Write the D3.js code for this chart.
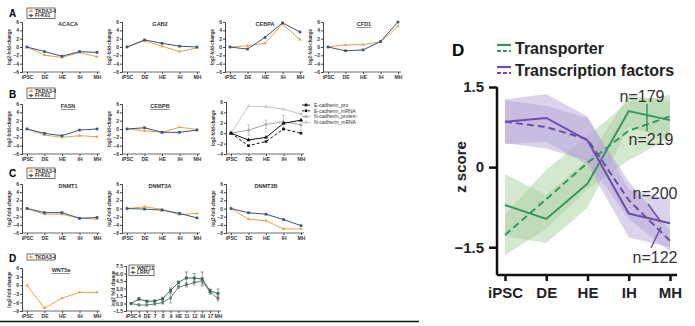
<!DOCTYPE html>
<html><head><meta charset="utf-8">
<script src="https://cdn.jsdelivr.net/npm/d3@7"></script>
<style>
body{margin:0;background:#fff;}
svg{display:block;font-family:"Liberation Sans",Arial,sans-serif;}
</style></head><body>
<svg id="fig" width="695" height="326"></svg>
<script>
// small helper so attrs({...}) works without d3-selection-multi
d3.selection.prototype.attrs = function(o){
	for (var k in o) this.attr(k, o[k]);
	return this;
};

var stages = ["iPSC","DE","HE","IH","MH"];
// row A
var acacaTKDA = [0,-1.95,-2.5,-1.3,-2.35], acacaFI = [0,-1.1,-2.2,-1.1,-1.3];
var gab2TKDA = [0,1.5,0.2,-1.1,-0.2], gab2FI = [0,1.7,0.9,0.2,0];
var cebpaTKDA = [0,0.3,0.9,5.5,1.8], cebpaFI = [0,-0.5,2.3,5.8,3.6];
var cfd1TKDA = [0,0.5,0.6,1.2,5.0], cfd1FI = [0,-0.9,-0.7,1.3,6.0];
// row B
var fasnTKDA = [0,-1.45,-2.0,-1.6,-1.85], fasnFI = [0,-1.05,-1.6,-0.25,0];
var cebpbTKDA = [0,-0.4,-0.8,0.45,-0.1], cebpbFI = [0,0.3,-0.8,-0.8,-0.25];
var ecadPro = [0,-1.3,-0.8,1.9,2.5], ecadMrna = [0,-2.4,-1.6,0.8,0];
var ncadPro = [0,0.6,1.7,2.2,1.6], ncadMrna = [0,5.2,5.1,4.6,3.7];
var ncadProErr = [0,1.0,0.8,1.2,1.0];
// row C
var dnmt1TKDA = [0,-1.4,-1.4,-2.4,-2.6], dnmt1FI = [0,-1.0,-1.0,-2.4,-2.2];
var dnmt3aTKDA = [0,0.4,-0.2,-1.5,-1.2], dnmt3aFI = [0,-0.15,-0.4,-1.2,-2.3];
var dnmt3bTKDA = [0,-2.6,-3.0,-5.0,-5.0], dnmt3bFI = [0,-1.05,-1.4,-2.7,-4.2];
// row D
var wnt5aTKDA = [0,-8,-4.5,-2.5,-2.5];
var wntStages = ["iPSC","4","DE","7","8","9","HE","11","12","IH","17","MH"];
var lrp2 = [0,0.9,0.45,0.5,0.95,2.6,4.2,5.1,5.1,4.9,2.5,2.0];
var lrp2Err = [0,0.3,0.2,0.2,0.3,0.5,0.3,1.2,0.9,1.4,0.4,0.9];
var wnt11 = [0,-0.3,-0.3,-0.1,0.2,1.1,3.3,3.7,4.2,4.5,2.3,1.0];
var wnt11Err = [0,0.2,0.2,0.2,0.3,1.0,0.3,0.4,0.5,0.6,0.5,0.5];
// right panel D (z score)
var transSolid = [-0.71,-0.97,-0.31,1.05,0.88], transSolidSd = [0.58,0.45,0.45,0.3,0.35];
var transDashed = [-1.27,-0.6,0.08,0.68,0.95], transDashedSd = [0.38,0.55,0.5,0.55,0.4];
var tfSolid = [0.85,0.92,0.5,-0.87,-1.05], tfSolidSd = [0.42,0.45,0.45,0.45,0.45];
var tfDashed = [0.85,0.75,0.52,-0.62,-1.38], tfDashedSd = [0.4,0.4,0.4,0.35,0.2];

var ORANGE = "#e6a24a", BLUE = "#36557f";
var svg = d3.select("#fig");

function smallPanel(o){
	var cats = o.cats || stages;
	var x = d3.scalePoint().domain(cats).range([o.ax+5, o.ax+(o.w||75)]);
	var y = d3.scaleLinear().domain(o.domain).range([o.bot, o.top]);
	var g = svg.append("g");
	g.append("g").attr("transform","translate("+o.ax+",0)")
		.call(d3.axisLeft(y).tickValues(o.ticks).tickSize(2).tickPadding(1).tickFormat(o.fmt||d3.format("d")));
	var xAx = g.append("g").attr("transform","translate(0,"+o.bot+")")
		.call(d3.axisBottom(x).tickSize(2).tickPadding(1));
	xAx.select(".domain").remove();
	g.append("line").attrs({x1:o.ax,x2:o.ax+(o.w||75)+3,y1:o.bot,y2:o.bot,stroke:"#444","stroke-width":0.8});
	g.selectAll(".tick text").style("font-size","5px").style("font-weight","bold").attr("fill","#333");
	g.selectAll(".tick line, .domain").attr("stroke","#444");
	g.append("text").attr("transform","translate("+(o.ax-11)+","+((o.top+o.bot)/2)+") rotate(-90)")
		.attr("text-anchor","middle").style("font-size","4.5px").style("font-weight","bold").attr("fill","#333")
		.text(o.ylab || "log2-fold-change");
	if(o.title){
		g.append("text").attr("x",o.ax+o.tx).attr("y",o.top+4).attr("text-anchor","middle")
			.style("font-size","5.5px").style("font-weight","bold").attr("fill","#333")
			.style("text-decoration",o.ul?"underline":"none").text(o.title);
	}
	var line = d3.line().x(function(d,i){return x(cats[i]);}).y(function(d){return y(d);});
	o.series.forEach(function(s){
		if(s.err){
			s.vals.forEach(function(v,i){
				if(!s.err[i]) return;
				g.append("line").attrs({x1:x(cats[i]),x2:x(cats[i]),y1:y(v-s.err[i]),y2:y(v+s.err[i]),stroke:s.color,"stroke-width":0.6});
				[v-s.err[i],v+s.err[i]].forEach(function(e){
					g.append("line").attrs({x1:x(cats[i])-1.5,x2:x(cats[i])+1.5,y1:y(e),y2:y(e),stroke:s.color,"stroke-width":0.6});
				});
			});
		}
		g.append("path").attr("d",line(s.vals)).attr("fill","none").attr("stroke",s.color)
			.attr("stroke-width",s.sw||1).attr("stroke-dasharray",s.dash||null);
		g.selectAll(null).data(s.vals).enter().append("path")
			.attr("transform",function(d,i){return "translate("+x(cats[i])+","+y(d)+")";})
			.attr("d",d3.symbol().type(s.shape||d3.symbolSquare).size(s.size||7))
			.attr("fill",s.color);
	});
	return g;
}

function legendBox(x0,y0,items,w){
	var g = svg.append("g");
	g.append("rect").attrs({x:x0,y:y0,width:w||28,height:items.length*4.5+1.5,fill:"#fff",stroke:"#333","stroke-width":0.7});
	items.forEach(function(it,i){
		var yy = y0+3+i*4.5;
		g.append("line").attrs({x1:x0+1.5,x2:x0+6.5,y1:yy,y2:yy,stroke:it.color,"stroke-width":0.8});
		g.append("path").attr("transform","translate("+(x0+4)+","+yy+")")
			.attr("d",d3.symbol().type(it.shape).size(6)).attr("fill",it.color);
		g.append("text").attrs({x:x0+8,y:yy+1.8}).style("font-size","5px").style("font-weight","bold")
			.attr("fill","#333").text(it.label);
	});
}

function letter(t,x,y,size){
	svg.append("text").attrs({x:x,y:y}).style("font-size",(size||10)+"px").style("font-weight","bold").text(t);
}

var tri = d3.symbolTriangle, sq = d3.symbolSquare;
function pair(tk,fi){ return [{vals:tk,color:ORANGE,shape:tri,size:5},{vals:fi,color:BLUE,shape:sq,size:7}]; }
var t6 = [-6,-4,-2,0,2,4,6];

// row A
smallPanel({ax:22,top:22,bot:72,domain:[-6,6],ticks:t6,title:"ACACA",tx:46,series:pair(acacaTKDA,acacaFI)});
smallPanel({ax:122,top:22,bot:72,domain:[-6,6],ticks:t6,title:"GAB2",tx:38,series:pair(gab2TKDA,gab2FI)});
smallPanel({ax:225,top:22,bot:72,domain:[-6,6],ticks:t6,title:"CEBPA",tx:40,series:pair(cebpaTKDA,cebpaFI)});
smallPanel({ax:323,top:22,bot:72,domain:[-6,6],ticks:t6,title:"CFD1",tx:41,ul:true,series:pair(cfd1TKDA,cfd1FI)});
// row B
smallPanel({ax:22,top:104,bot:154,domain:[-6,6],ticks:t6,title:"FASN",tx:46,ul:true,series:pair(fasnTKDA,fasnFI)});
smallPanel({ax:122,top:104,bot:154,domain:[-6,6],ticks:t6,title:"CEBPB",tx:38,ul:true,series:pair(cebpbTKDA,cebpbFI)});
smallPanel({ax:226,top:102,bot:154,domain:[-4,6],ticks:[-4,-2,0,2,4,6],series:[
	{vals:ncadMrna,color:"#c4c4c4",shape:d3.symbolTriangle,size:6},
	{vals:ncadPro,color:"#a8a8a8",shape:d3.symbolTriangle,size:6,err:ncadProErr},
	{vals:ecadMrna,color:"#111",shape:sq,size:7,dash:"3,2"},
	{vals:ecadPro,color:"#111",shape:d3.symbolTriangle,size:8}
]});
// cadherin legend
var cadLeg = [["E-cadherin_pro","#111",d3.symbolTriangle,null],["E-cadherin_mRNA","#111",sq,"2,1"],
	["N-cadherin_protein","#a8a8a8",d3.symbolTriangle,null],["N-cadherin_mRNA","#c4c4c4",d3.symbolTriangle,null]];
cadLeg.forEach(function(c,i){
	var yy = 105+i*5.8;
	svg.append("line").attrs({x1:302,x2:310,y1:yy,y2:yy,stroke:c[1],"stroke-width":0.9,"stroke-dasharray":c[3]});
	svg.append("path").attr("transform","translate(306,"+yy+")").attr("d",d3.symbol().type(c[2]).size(7)).attr("fill",c[1]);
	svg.append("text").attrs({x:314,y:yy+1.8}).style("font-size","5px").attr("fill","#333").text(c[0]);
});
// row C
smallPanel({ax:22,top:184,bot:233,domain:[-6,6],ticks:t6,title:"DNMT1",tx:46,series:pair(dnmt1TKDA,dnmt1FI)});
smallPanel({ax:122,top:184,bot:233,domain:[-6,6],ticks:t6,title:"DNMT3A",tx:38,series:pair(dnmt3aTKDA,dnmt3aFI)});
smallPanel({ax:226,top:184,bot:233,domain:[-6,6],ticks:t6,title:"DNMT3B",tx:40,series:pair(dnmt3bTKDA,dnmt3bFI)});
// row D
smallPanel({ax:22,top:268,bot:311,domain:[-9,6],ticks:[-9,-6,-3,0,3,6],title:"WNT5a",tx:39,ul:true,
	series:[{vals:wnt5aTKDA,color:ORANGE,shape:tri,size:5}]});
smallPanel({ax:126,top:266,bot:311,domain:[-1.5,7.5],ticks:[-1.5,0,1.5,3,4.5,6,7.5],fmt:d3.format(".1f"),
	cats:wntStages,w:92,ylab:"log2 fold change",series:[
	{vals:wnt11,color:"#6f7d78",shape:d3.symbolCircle,size:7,err:wnt11Err},
	{vals:lrp2,color:"#3f6652",shape:sq,size:8,err:lrp2Err}
]});

legendBox(27,8,[{label:"TKDA3-4",color:ORANGE,shape:tri},{label:"FI-K01",color:BLUE,shape:sq}]);
legendBox(27,88,[{label:"TKDA3-4",color:ORANGE,shape:tri},{label:"FI-K01",color:BLUE,shape:sq}]);
legendBox(27,168,[{label:"TKDA3-4",color:ORANGE,shape:tri},{label:"FI-K01",color:BLUE,shape:sq}]);
legendBox(27,254,[{label:"TKDA3-4",color:ORANGE,shape:tri}]);
legendBox(129,265,[{label:"WNT11",color:"#6f7d78",shape:d3.symbolCircle},{label:"LRP2",color:"#3f6652",shape:sq}],25);

letter("A",9,17); letter("B",9,98); letter("C",9,177); letter("D",9,262);

// separator line
svg.append("line").attrs({x1:0,x2:419,y1:321.5,y2:321.5,stroke:"#111","stroke-width":1.5});

// ---- right panel D ----
var xD = d3.scalePoint().domain(stages).range([505,670]);
var yD = d3.scaleLinear().domain([-2.02,1.5]).range([275,87]);
var gD = svg.append("g");
var GREEN = "#2f9a5b", PURPLE = "#6c50a4";
var area = d3.area().x(function(d){return xD(d.s);}).y0(function(d){return yD(d.v-d.sd);}).y1(function(d){return yD(d.v+d.sd);});
var lineD = d3.line().x(function(d){return xD(d.s);}).y(function(d){return yD(d.v);});
function rows(v,sd){ return stages.map(function(s,i){return {s:s,v:v[i],sd:sd[i]};}); }
var dSeries = [
	{v:transDashed,sd:transDashedSd,fill:"#a9cfa0",color:GREEN,dash:"7,4"},
	{v:transSolid,sd:transSolidSd,fill:"#a9cfa0",color:GREEN,dash:null},
	{v:tfDashed,sd:tfDashedSd,fill:"#b7a5d8",color:PURPLE,dash:"7,4"},
	{v:tfSolid,sd:tfSolidSd,fill:"#b7a5d8",color:PURPLE,dash:null}
];
dSeries.forEach(function(s){
	gD.append("path").attr("d",area(rows(s.v,s.sd))).attr("fill",s.fill).attr("opacity",0.5);
});
dSeries.forEach(function(s){
	gD.append("path").attr("d",lineD(rows(s.v,s.sd))).attr("fill","none").attr("stroke",s.color)
		.attr("stroke-width",2).attr("stroke-dasharray",s.dash);
});
var yAxD = gD.append("g").attr("transform","translate(497,0)")
	.call(d3.axisLeft(yD).tickValues([-1.5,0,1.5]).tickSize(8).tickPadding(5).tickFormat(function(d){return d===0?"0":d3.format(".1f")(d);}));
yAxD.select(".domain").attr("d","M0,"+yD(1.5)+"V275");
var xAxD = gD.append("g").attr("transform","translate(0,275)")
	.call(d3.axisBottom(xD).tickSize(6).tickPadding(6));
xAxD.select(".domain").attr("d","M497,0H677");
gD.selectAll(".domain, .tick line").attr("stroke","#111").attr("stroke-width",2.5);
gD.selectAll(".tick text").style("font-size","15px").style("font-weight","bold").attr("fill","#222");
gD.append("text").attr("transform","translate(466,167) rotate(-90)").attr("text-anchor","middle")
	.style("font-size","15px").style("font-weight","bold").attr("fill","#222").text("z score");
letter("D",452,56,17);
[["Transporter",GREEN,48],["Transcription factors",PURPLE,70]].forEach(function(l){
	gD.append("line").attrs({x1:497,x2:511,y1:l[2]-3,y2:l[2]-3,stroke:l[1],"stroke-width":2.2});
	gD.append("line").attrs({x1:497,x2:511,y1:l[2]+3,y2:l[2]+3,stroke:l[1],"stroke-width":2.2,"stroke-dasharray":"4,2"});
	gD.append("text").attrs({x:515,y:l[2]+5.5}).style("font-size","16px").style("font-weight","bold")
		.attr("fill","#222").text(l[0]);
});
var nLabs = [["n=179",642,102],["n=219",651,145],["n=200",655,199],["n=122",655,263]];
nLabs.forEach(function(n){
	gD.append("text").attrs({x:n[1],y:n[2],"text-anchor":"middle"}).style("font-size","16px").attr("fill","#333").text(n[0]);
});
gD.append("line").attrs({x1:647,x2:647,y1:104,y2:131,stroke:GREEN,"stroke-width":1.5});
gD.append("line").attrs({x1:648,x2:661,y1:204,y2:222,stroke:PURPLE,"stroke-width":1.5});
gD.append("line").attrs({x1:651,x2:661,y1:248,y2:227,stroke:PURPLE,"stroke-width":1.5});
</script></body></html>
